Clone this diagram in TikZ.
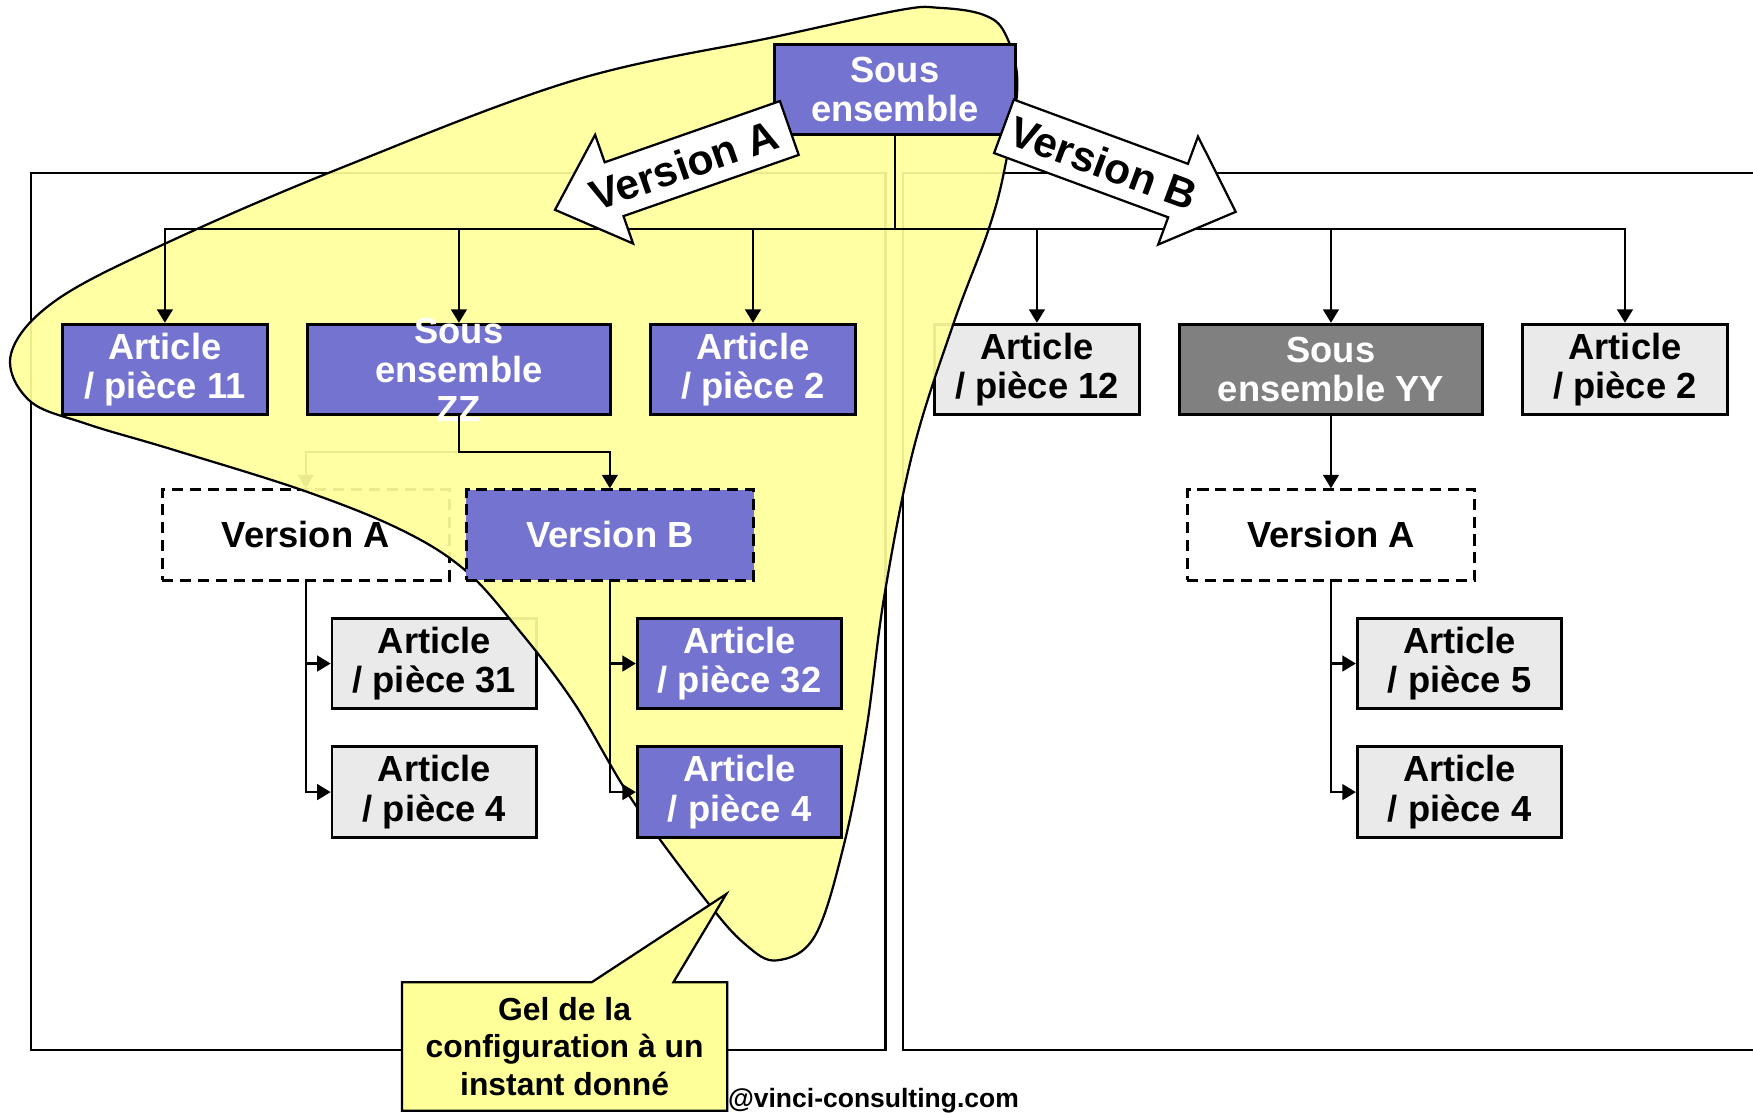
\documentclass[tikz,border=0pt]{standalone}
\usepackage{fontspec}
\setmainfont{Liberation Sans}
\usetikzlibrary{arrows.meta,shapes.callouts}

\definecolor{bleu}{RGB}{116,116,208}
\definecolor{grisclair}{RGB}{234,234,234}
\definecolor{grisfonce}{RGB}{128,128,128}
\definecolor{jaune}{RGB}{255,255,155}
\definecolor{jaunecl}{RGB}{255,255,153}

\begin{document}
\begin{tikzpicture}[x=1pt,y=-1pt,
  every node/.style={font=\fontsize{32.5}{35}\selectfont\bfseries},
  boite/.style={draw, line width=2.5pt, inner sep=0pt, align=center, minimum height=81pt},
  artbox/.style={boite, minimum width=183pt},
  ssbox/.style={boite, minimum width=271pt},
  verbox/.style={boite, minimum width=257pt, dash pattern=on 10pt off 6pt},
  fbleu/.style={fill=bleu, text=white},
  fgris/.style={fill=grisclair},
  ffonce/.style={fill=grisfonce, text=white},
  lien/.style={line width=2pt, -{Triangle[length=12pt,width=14pt]}},
  trait/.style={line width=2pt},
  cadre/.style={line width=2pt},
  bloc/.style={draw, line width=2pt, fill=white, line join=miter},
  bloctxt/.style={font=\fontsize{38}{42}\selectfont\bfseries, inner sep=0pt},
]
\useasboundingbox (0,0) rectangle (1568,995);

% two configuration frames
\draw[cadre] (28,155) rectangle (792,939);
\draw[cadre] (808,155) rectangle (1620,939);

% items lying under the frozen zone
\node[artbox, fgris] (a31) at (388.5,593.5) {Article\\/ pièce 31};
\node[artbox, fgris] (a4l) at (388.5,708.5) {Article\\/ pièce 4};
\node[artbox, fgris] (a12) at (927.5,330.5) {Article\\/ pièce 12};
\node[ssbox, ffonce] (yy) at (1190.5,330.5) {Sous\\ensemble YY};
\node[artbox, fgris] (a2r) at (1453.5,330.5) {Article\\/ pièce 2};
\node[verbox, fill=white] (vAr) at (1190.5,478.5) {Version A};
\node[artbox, fgris] (a5) at (1305.5,593.5) {Article\\/ pièce 5};
\node[artbox, fgris] (a4r) at (1305.5,708.5) {Article\\/ pièce 4};
\node[verbox, fill=white] (vA) at (273.5,478.5) {};
\coordinate (zzj) at (410.5,404);
\draw[lien] (zzj) -| (vA.north);

% frozen configuration zone
\draw[line width=2pt, fill=jaune, fill opacity=0.92]
  plot[smooth cycle, tension=0.6] coordinates {
    (10,316) (51,268) (154,215) (308,149) (513,72) (693,33) (805,9)
    (840,7) (879,13) (899,30) (910,75) (899,149) (884,206) (853,289)
    (817,402) (791,533) (775,652) (755,755) (729,837) (695,859)
    (667,845) (632,806) (565,715) (513,628) (462,561) (416,510)
    (359,474) (272,439) (154,402) (77,379) (26,358)};

\node (vAtxt) at (vA.center) {Version A};

% frozen items
\node[boite, fbleu, minimum width=215pt, minimum height=80pt] (top) at (800.5,80) {Sous\\ensemble};
\node[artbox, fbleu] (a11) at (147.5,330.5) {Article\\/ pièce 11};
\node[ssbox, fbleu] (zz) at (410.5,330.5) {};
\node[text=white, align=center, inner sep=0pt] (zzt) at (zz.center) {Sous\\ensemble\\ZZ};
\node[artbox, fbleu] (a2) at (673.5,330.5) {Article\\/ pièce 2};
\node[verbox, fbleu] (vB) at (545.5,478.5) {Version B};
\node[artbox, fbleu] (a32) at (661.5,593.5) {Article\\/ pièce 32};
\node[artbox, fbleu] (a4b) at (661.5,708.5) {Article\\/ pièce 4};

% structure links
\coordinate (bus) at (800.5,205);
\draw[trait] (top.south) -- (bus);
\foreach \n in {a11,zz,a2,a12,yy,a2r}
  \draw[lien] (bus) -| (\n.north);
\draw[lien] (zz.south) -- (zzj) -| (vB.north);
\draw[lien] (vA.south) |- (a31.west);
\draw[lien] (vA.south) |- (a4l.west);
\draw[lien] (vB.south) |- (a32.west);
\draw[lien] (vB.south) |- (a4b.west);
\draw[lien] (yy.south) -- (vAr.north);
\draw[lien] (vAr.south) |- (a5.west);
\draw[lien] (vAr.south) |- (a4r.west);

% version block arrows
\begin{scope}[shift={(706,114.5)}, rotate=199.25]
  \draw[bloc] (0,-25.5) -- (166,-25.5) -- (166,-51.5) -- (222,0)
    -- (166,51.5) -- (166,25.5) -- (0,25.5) -- cycle;
  \node[bloctxt, rotate=19.25] (flA) at (100,0) {Version A};
\end{scope}
\begin{scope}[shift={(898,113)}, rotate=-20.25]
  \draw[bloc] (0,-25.5) -- (166,-25.5) -- (166,-51.5) -- (221,0)
    -- (166,51.5) -- (166,25.5) -- (0,25.5) -- cycle;
  \node[bloctxt, rotate=-20.25] (flB) at (95,0) {Version B};
\end{scope}

% callout
\node[rectangle callout, draw, line width=2pt, fill=jaunecl,
  callout absolute pointer={(649.6,799.7)}, callout pointer width=73pt,
  minimum width=291pt, minimum height=115pt, inner sep=0pt, align=center,
  font=\fontsize{28.5}{33.5}\selectfont\bfseries] (gel) at (505,936)
  {Gel de la\\configuration à un\\instant donné};

\node[anchor=base west, inner sep=0pt, font=\fontsize{23.7}{28}\selectfont\bfseries]
  (credit) at (651,991) {@vinci-consulting.com};
\end{tikzpicture}
\end{document}
